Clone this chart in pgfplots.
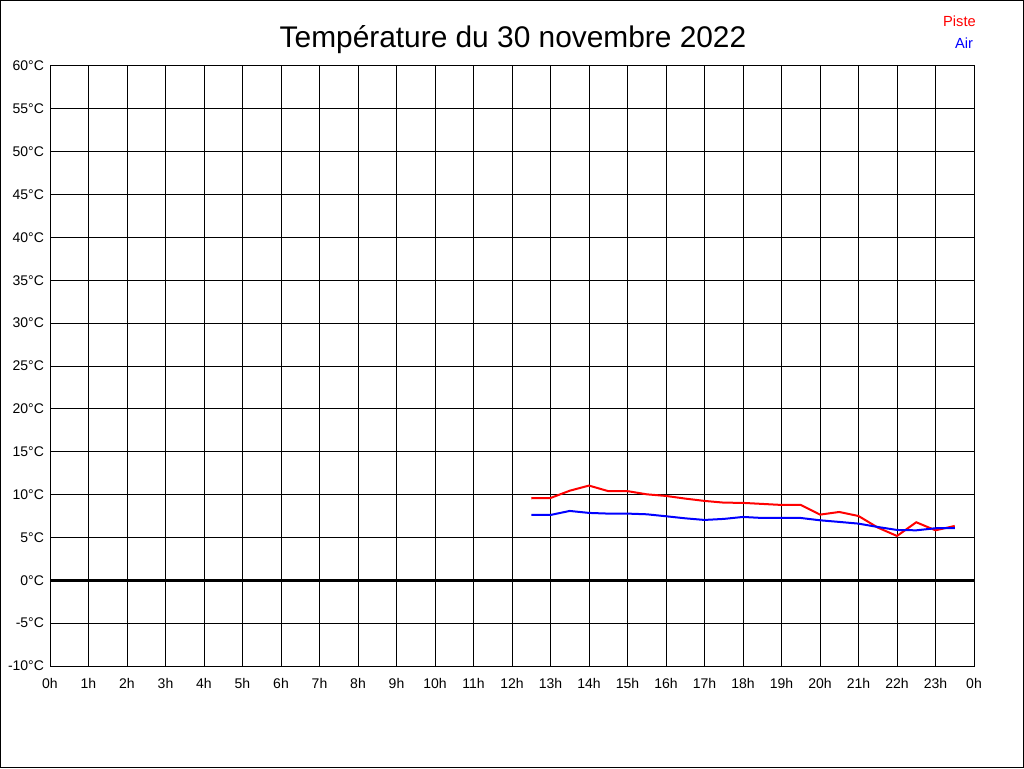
\documentclass[border=0pt]{standalone}
\usepackage{fontspec}
\setmainfont{Liberation Sans}
\usepackage{pgfplots}
\pgfplotsset{compat=1.18}
\begin{document}
\begin{tikzpicture}
\useasboundingbox (0pt,0pt) rectangle (768pt,576pt);
\draw[line width=0.75pt] (0.375pt,0.375pt) rectangle (767.625pt,575.625pt);
\begin{axis}[
  at={(37.5pt,76.5pt)}, anchor=south west,
  scale only axis, width=693pt, height=450pt,
  xmin=0, xmax=24, ymin=-10, ymax=60,
  xtick={0,1,...,24}, ytick={-10,-5,...,60},
  xticklabels={0h,1h,2h,3h,4h,5h,6h,7h,8h,9h,10h,11h,12h,13h,14h,15h,16h,17h,18h,19h,20h,21h,22h,23h,0h},
  yticklabels={-10°C,-5°C,0°C,5°C,10°C,15°C,20°C,25°C,30°C,35°C,40°C,45°C,50°C,55°C,60°C},
  major tick length=0pt,
  grid=major,
  major grid style={black, line width=0.75pt},
  axis line style={black, line width=0.75pt},
  tick label style={font=\fontsize{10.5}{12}\selectfont, black},
  xticklabel style={yshift=-6pt},
  yticklabel style={xshift=-1pt},
  clip=false,
]
\addplot[black, line width=2.25pt, forget plot] coordinates {(0,0) (24,0)};
\addplot[red, line width=1.5pt] coordinates {
(12.5,9.57) (13,9.6) (13.5,10.45) (14,11.05) (14.5,10.4) (15,10.4) (15.5,10.03) (16,9.84) (16.5,9.53) (17,9.26) (17.5,9.06) (18,9.03) (18.5,8.91) (19,8.79) (19.5,8.79) (20,7.66) (20.5,7.97) (21,7.5) (21.5,6.15) (22,5.17) (22.5,6.77) (23,5.83) (23.5,6.34)
};
\addplot[blue, line width=1.5pt] coordinates {
(12.5,7.62) (13,7.62) (13.5,8.09) (14,7.86) (14.5,7.78) (15,7.78) (15.5,7.7) (16,7.47) (16.5,7.23) (17,7.04) (17.5,7.16) (18,7.39) (18.5,7.27) (19,7.27) (19.5,7.27) (20,7.0) (20.5,6.81) (21,6.61) (21.5,6.22) (22,5.87) (22.5,5.83) (23,6.07) (23.5,6.1)
};
\end{axis}
\node[font=\fontsize{22.4}{26}\selectfont] at (384.75pt,546pt) {Température du 30 novembre 2022};
\node[anchor=east, text=red, font=\fontsize{11}{13}\selectfont, inner sep=0pt] at (732pt,560.25pt) {Piste};
\node[anchor=east, text=blue, font=\fontsize{11}{13}\selectfont, inner sep=0pt] at (730pt,543.75pt) {Air};
\end{tikzpicture}
\end{document}
